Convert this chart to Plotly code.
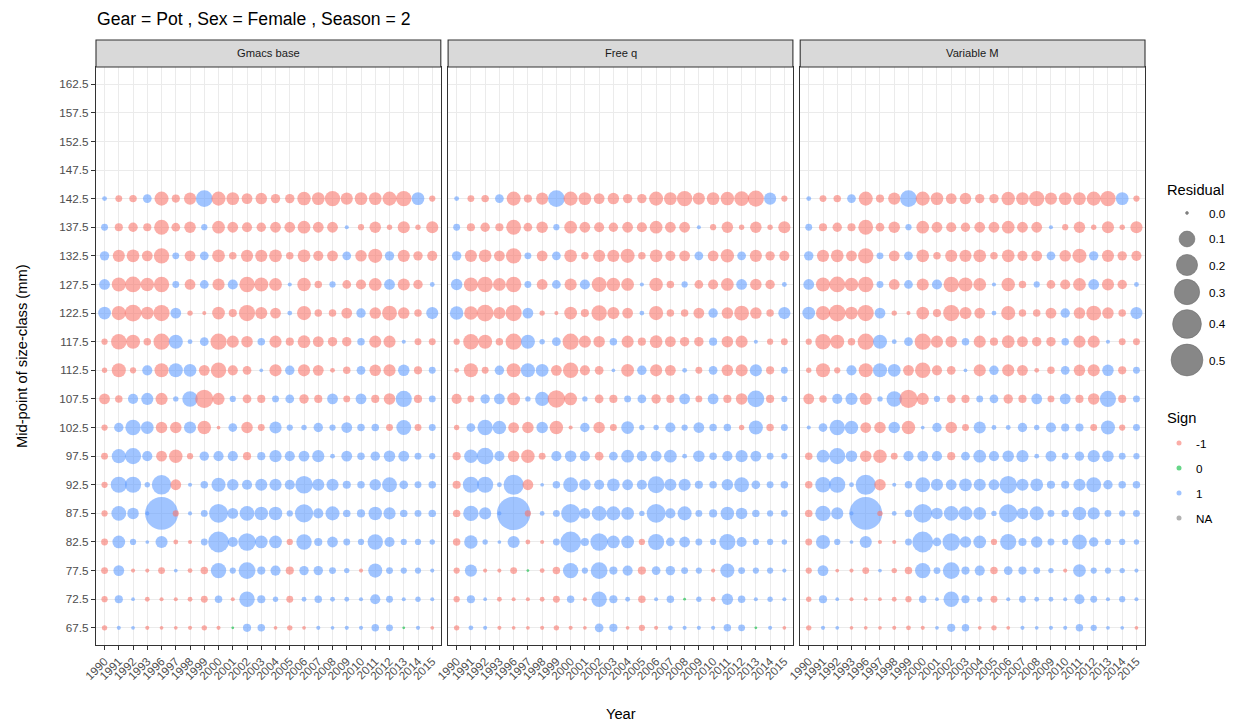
import math
import plotly.graph_objects as go

# ---------------- data ----------------
YEARS = [1990, 1991, 1992, 1993, 1996, 1997, 1998, 1999, 2000, 2001, 2002, 2003,
         2004, 2005, 2006, 2007, 2008, 2009, 2010, 2011, 2012, 2013, 2014, 2015]
SIZE_CLASSES = [142.5, 137.5, 132.5, 127.5, 122.5, 117.5, 112.5, 107.5,
                102.5, 97.5, 92.5, 87.5, 82.5, 77.5, 72.5, 67.5]
Y_TICKS = [67.5, 72.5, 77.5, 82.5, 87.5, 92.5, 97.5, 102.5, 107.5, 112.5,
           117.5, 122.5, 127.5, 132.5, 137.5, 142.5, 147.5, 152.5, 157.5, 162.5]
MODELS = ["Gmacs base", "Free q", "Variable M"]
LEGEND_RESID = [0.0, 0.1, 0.2, 0.3, 0.4, 0.5]
LEGEND_SIGN = ["-1", "0", "1", "NA"]

RES_GMACS = [
    [0.0025, -0.01, -0.013, 0.021, -0.076, -0.017, -0.052, 0.117, -0.076, -0.059, -0.038, -0.045, -0.026, -0.026, -0.068, -0.059, -0.095, -0.052, -0.059, -0.059, -0.076, -0.095, 0.059, -0.007],
    [0.01, -0.017, -0.026, -0.017, -0.086, -0.021, -0.045, 0.007, -0.059, -0.038, -0.032, -0.026, -0.038, -0.038, -0.059, -0.038, -0.038, 0.001, -0.007, -0.045, -0.004, -0.052, -0.004, -0.052],
    [0.026, -0.052, -0.059, -0.038, -0.095, 0.01, -0.038, 0.021, -0.059, -0.013, -0.052, -0.052, -0.059, -0.013, -0.059, -0.032, -0.038, 0.021, -0.045, -0.076, 0.026, -0.052, -0.026, -0.032],
    [0.038, -0.076, -0.1, -0.068, -0.095, 0.01, -0.038, 0.021, -0.052, 0.032, -0.095, -0.076, -0.059, 0.001, -0.068, -0.013, 0.007, -0.021, -0.032, -0.059, 0.038, -0.052, -0.026, 0.0025],
    [0.059, -0.076, -0.117, -0.059, -0.106, 0.038, -0.004, -0.001, -0.059, -0.017, -0.106, -0.052, -0.038, 0.0025, -0.076, -0.013, -0.013, -0.038, 0.026, -0.045, -0.086, -0.045, -0.013, 0.052],
    [-0.007, -0.095, -0.076, -0.013, -0.106, 0.076, 0.0025, 0.021, -0.106, -0.052, -0.045, 0.013, -0.052, -0.017, -0.059, -0.038, -0.026, -0.026, 0.013, -0.052, -0.052, 0.001, -0.01, -0.01],
    [-0.004, -0.076, -0.007, 0.032, -0.076, 0.076, 0.059, -0.038, -0.095, -0.032, -0.021, 0.0005, -0.052, 0.026, -0.052, -0.038, -0.0025, -0.013, 0.021, -0.045, -0.052, 0.045, -0.017, 0.01],
    [-0.038, -0.013, 0.032, 0.052, -0.052, 0.004, 0.095, -0.14, -0.052, 0.007, -0.021, -0.017, 0.01, 0.021, -0.026, -0.017, 0.038, -0.01, 0.038, -0.017, -0.045, 0.106, -0.017, 0.01],
    [-0.007, 0.026, 0.095, 0.059, -0.045, -0.045, 0.052, -0.068, -0.0005, 0.021, -0.045, -0.01, 0.052, 0.007, 0.004, 0.026, 0.007, 0.038, 0.013, 0.013, -0.01, 0.086, -0.01, 0.01],
    [-0.01, 0.076, 0.106, 0.032, -0.038, -0.068, -0.007, 0.026, 0.032, 0.032, -0.017, 0.017, 0.052, 0.032, 0.038, 0.052, 0.0025, 0.038, 0.013, 0.026, 0.045, 0.038, 0.01, 0.007],
    [-0.007, 0.106, 0.106, 0.004, 0.165, -0.038, 0.001, 0.013, 0.076, 0.045, 0.032, 0.052, 0.052, 0.032, 0.128, 0.052, 0.052, 0.017, 0.013, 0.045, 0.086, 0.021, 0.01, 0.013],
    [-0.007, 0.086, 0.045, 0.001, 0.535, -0.007, 0.001, 0.01, 0.152, 0.038, 0.086, 0.068, 0.068, 0.007, 0.14, 0.032, 0.076, 0.013, 0.017, 0.068, 0.052, 0.013, 0.01, 0.013],
    [-0.01, 0.059, 0.007, 0.0005, 0.052, -0.0025, -0.001, 0.01, 0.193, 0.032, 0.128, 0.059, 0.059, -0.007, 0.095, 0.017, 0.038, 0.01, 0.007, 0.095, 0.032, 0.007, 0.007, 0.004],
    [-0.01, 0.038, -0.001, -0.001, -0.01, 0.0005, -0.0025, -0.013, 0.095, 0.007, 0.117, 0.017, 0.032, -0.017, 0.026, 0.026, 0.01, 0.004, -0.001, 0.076, 0.01, 0.007, 0.007, 0.001],
    [-0.007, 0.017, 0.0005, -0.0025, -0.001, -0.001, -0.0025, -0.01, 0.013, -0.001, 0.095, 0.017, 0.004, -0.01, 0.0025, 0.013, 0.0025, 0.0025, 0.001, 0.032, 0.01, 0.001, 0.004, 0.001],
    [-0.004, 0.001, 0.0005, -0.001, -0.0005, -0.0005, -0.001, -0.004, -0.001, 0.0, 0.017, 0.013, -0.0005, -0.004, -0.0005, 0.001, 0.0005, 0.001, 0.001, 0.013, 0.01, 0.0, 0.001, -0.0005],
]

RES_FREEQ = [
    [0.0025, -0.01, -0.013, 0.021, -0.076, -0.017, -0.052, 0.117, -0.076, -0.059, -0.038, -0.045, -0.026, -0.026, -0.076, -0.059, -0.095, -0.052, -0.059, -0.068, -0.086, -0.106, 0.052, -0.007],
    [0.01, -0.017, -0.026, -0.017, -0.086, -0.021, -0.045, 0.007, -0.059, -0.038, -0.032, -0.026, -0.038, -0.032, -0.059, -0.038, -0.038, 0.001, -0.007, -0.045, -0.004, -0.045, -0.004, -0.052],
    [0.026, -0.052, -0.059, -0.038, -0.095, 0.01, -0.038, 0.021, -0.059, -0.013, -0.052, -0.052, -0.076, -0.013, -0.059, -0.032, -0.038, 0.021, -0.038, -0.068, 0.021, -0.052, -0.026, -0.032],
    [0.045, -0.076, -0.095, -0.059, -0.095, 0.01, -0.038, 0.021, -0.052, 0.032, -0.086, -0.068, -0.059, 0.001, -0.068, -0.013, 0.007, -0.021, -0.032, -0.059, 0.038, -0.045, -0.026, 0.0025],
    [0.068, -0.068, -0.117, -0.052, -0.106, 0.038, -0.004, -0.001, -0.059, -0.017, -0.095, -0.052, -0.038, 0.0025, -0.076, -0.013, -0.013, -0.038, 0.026, -0.045, -0.086, -0.045, -0.013, 0.052],
    [-0.007, -0.095, -0.076, -0.013, -0.106, 0.076, 0.004, 0.021, -0.106, -0.052, -0.045, 0.013, -0.052, -0.017, -0.059, -0.038, -0.026, -0.026, 0.017, -0.045, -0.052, 0.001, -0.007, -0.01],
    [-0.0025, -0.076, -0.01, 0.026, -0.076, 0.076, 0.059, -0.038, -0.095, -0.032, -0.021, 0.0005, -0.059, 0.026, -0.052, -0.038, 0.0025, -0.01, 0.021, -0.045, -0.052, 0.052, -0.017, 0.01],
    [-0.032, -0.01, 0.026, 0.038, -0.059, 0.004, 0.076, -0.128, -0.059, 0.004, -0.021, -0.017, 0.01, 0.021, -0.026, -0.017, 0.038, -0.01, 0.038, -0.017, -0.045, 0.117, -0.017, 0.007],
    [-0.004, 0.021, 0.095, 0.068, -0.038, -0.045, 0.045, -0.068, -0.001, 0.026, -0.045, -0.01, 0.059, 0.004, 0.004, 0.032, 0.007, 0.038, 0.013, 0.013, -0.004, 0.076, -0.013, 0.01],
    [-0.017, 0.068, 0.117, 0.032, -0.045, -0.068, -0.01, 0.032, 0.045, 0.032, -0.021, 0.021, 0.059, 0.032, 0.038, 0.059, 0.0025, 0.045, 0.013, 0.032, 0.052, 0.038, 0.01, 0.007],
    [-0.017, 0.106, 0.106, 0.0025, 0.179, -0.038, 0.0005, 0.013, 0.086, 0.045, 0.032, 0.059, 0.038, 0.032, 0.117, 0.052, 0.052, 0.017, 0.013, 0.045, 0.086, 0.021, 0.01, 0.013],
    [-0.013, 0.095, 0.052, 0.001, 0.56, -0.007, 0.0025, 0.01, 0.152, 0.038, 0.086, 0.076, 0.059, 0.004, 0.152, 0.032, 0.076, 0.01, 0.017, 0.068, 0.045, 0.013, 0.007, 0.01],
    [-0.013, 0.068, 0.004, 0.0005, 0.052, -0.0025, -0.001, 0.01, 0.193, 0.017, 0.128, 0.059, 0.059, -0.007, 0.106, 0.021, 0.038, 0.01, 0.007, 0.106, 0.032, 0.007, 0.007, 0.004],
    [-0.007, 0.052, -0.001, -0.001, -0.01, 0.0, -0.0025, -0.013, 0.095, 0.007, 0.117, 0.017, 0.032, -0.017, 0.021, 0.026, 0.01, 0.007, -0.001, 0.076, 0.01, 0.007, 0.007, 0.001],
    [-0.007, 0.017, 0.0005, -0.0025, -0.001, -0.001, -0.0025, -0.01, 0.013, -0.001, 0.095, 0.017, 0.0025, -0.013, 0.001, 0.013, 0.0, 0.004, -0.0025, 0.045, 0.013, 0.001, 0.004, 0.001],
    [-0.004, 0.0025, 0.001, -0.001, -0.0005, -0.0005, -0.001, -0.004, -0.001, -0.0005, 0.021, 0.017, -0.0005, -0.007, -0.001, 0.0025, 0.001, 0.001, 0.001, 0.013, 0.01, 0.0, 0.001, -0.0005],
]

RES_VARM = [
    [0.0025, -0.01, -0.013, 0.021, -0.076, -0.017, -0.052, 0.117, -0.076, -0.059, -0.038, -0.045, -0.026, -0.026, -0.068, -0.059, -0.095, -0.052, -0.059, -0.059, -0.076, -0.095, 0.059, -0.007],
    [0.01, -0.017, -0.026, -0.017, -0.086, -0.021, -0.045, 0.007, -0.059, -0.038, -0.032, -0.026, -0.038, -0.038, -0.059, -0.038, -0.038, 0.001, -0.007, -0.045, -0.004, -0.052, -0.004, -0.052],
    [0.026, -0.052, -0.059, -0.038, -0.095, 0.01, -0.038, 0.021, -0.059, -0.013, -0.052, -0.052, -0.059, -0.013, -0.059, -0.032, -0.038, 0.021, -0.045, -0.076, 0.026, -0.052, -0.026, -0.032],
    [0.038, -0.076, -0.1, -0.068, -0.095, 0.01, -0.038, 0.021, -0.052, 0.032, -0.095, -0.076, -0.059, 0.001, -0.068, -0.013, 0.007, -0.021, -0.032, -0.059, 0.038, -0.052, -0.026, 0.0025],
    [0.059, -0.076, -0.117, -0.059, -0.106, 0.038, -0.004, -0.001, -0.059, -0.017, -0.106, -0.052, -0.038, 0.0025, -0.076, -0.013, -0.013, -0.038, 0.026, -0.045, -0.086, -0.045, -0.013, 0.052],
    [-0.007, -0.095, -0.076, -0.013, -0.106, 0.076, 0.0025, 0.021, -0.106, -0.052, -0.045, 0.013, -0.052, -0.017, -0.059, -0.038, -0.026, -0.026, 0.013, -0.052, -0.052, 0.001, -0.01, -0.01],
    [-0.004, -0.076, -0.007, 0.032, -0.076, 0.076, 0.059, -0.038, -0.095, -0.032, -0.021, 0.0005, -0.052, 0.026, -0.052, -0.038, -0.0025, -0.013, 0.021, -0.045, -0.052, 0.045, -0.017, 0.01],
    [-0.038, -0.013, 0.032, 0.052, -0.052, 0.004, 0.095, -0.14, -0.052, 0.007, -0.021, -0.017, 0.01, 0.021, -0.026, -0.017, 0.038, -0.01, 0.038, -0.017, -0.045, 0.106, -0.017, 0.01],
    [0.001, 0.021, 0.095, 0.068, -0.038, -0.045, 0.045, -0.068, 0.0005, 0.026, -0.045, -0.01, 0.052, 0.0025, 0.0025, 0.026, 0.004, 0.032, 0.017, 0.017, -0.01, 0.076, -0.007, 0.01],
    [-0.013, 0.059, 0.106, 0.045, -0.045, -0.068, -0.01, 0.032, 0.038, 0.032, -0.017, 0.021, 0.059, 0.032, 0.045, 0.052, 0.0025, 0.038, 0.01, 0.026, 0.052, 0.045, 0.01, 0.007],
    [-0.013, 0.095, 0.106, 0.0025, 0.179, -0.045, 0.001, 0.013, 0.086, 0.052, 0.038, 0.059, 0.052, 0.038, 0.128, 0.052, 0.059, 0.017, 0.017, 0.052, 0.086, 0.026, 0.013, 0.013],
    [-0.013, 0.095, 0.052, 0.001, 0.535, -0.004, 0.0025, 0.013, 0.152, 0.045, 0.086, 0.076, 0.059, 0.004, 0.14, 0.045, 0.076, 0.01, 0.013, 0.068, 0.052, 0.01, 0.007, 0.01],
    [-0.01, 0.076, 0.007, 0.0005, 0.052, -0.001, -0.001, 0.01, 0.193, 0.021, 0.128, 0.045, 0.059, -0.007, 0.106, 0.017, 0.045, 0.01, 0.007, 0.086, 0.026, 0.007, 0.007, 0.004],
    [-0.007, 0.038, -0.0005, -0.001, -0.01, 0.0005, -0.004, -0.013, 0.095, 0.01, 0.117, 0.017, 0.032, -0.013, 0.021, 0.017, 0.01, 0.004, -0.001, 0.059, 0.007, 0.007, 0.004, 0.001],
    [-0.004, 0.017, 0.0005, -0.001, -0.0005, -0.0005, -0.0025, -0.007, 0.013, 0.0005, 0.095, 0.017, 0.004, -0.01, 0.001, 0.01, 0.0025, 0.0025, 0.001, 0.032, 0.01, 0.001, 0.007, 0.001],
    [-0.004, 0.001, 0.0005, -0.0005, -0.0005, -0.0005, -0.001, -0.0025, -0.001, 0.0005, 0.017, 0.013, -0.0005, -0.004, -0.0005, 0.001, 0.0005, 0.001, 0.001, 0.013, 0.007, 0.0005, 0.0005, -0.0005],
]
PANEL_DATA = [RES_GMACS, RES_FREEQ, RES_VARM]

# ---------------- styling ----------------
W, H = 1249, 725
FONT = "Liberation Sans, Arial, Helvetica, sans-serif"
SIGN_COLORS = {"-1": "#F8766D", "0": "#00BA38", "1": "#619CFF", "NA": "#7F7F7F"}
ALPHA = 0.6


def bubble_size(v):
    return 2.8 + 41.0 * math.sqrt(abs(v))


def sign_of(v):
    return "1" if v > 0 else ("-1" if v < 0 else "0")


PANEL_LEFT = [96.0, 448.1, 800.2]
PANEL_W = 344.8
PANEL_TOP, PANEL_BOT = 67.0, 645.0
STRIP_TOP = 40.0


def px(x):
    return x / W


def py(y):
    return 1 - y / H


fig = go.Figure()
cats = [str(y) for y in YEARS]

for p, data in enumerate(PANEL_DATA):
    xs, ys, sizes, cols = [], [], [], []
    for j, yr in enumerate(YEARS):
        for i, sc in enumerate(SIZE_CLASSES):
            v = data[i][j]
            xs.append(str(yr))
            ys.append(sc)
            sizes.append(bubble_size(v))
            cols.append(SIGN_COLORS[sign_of(v)])
    suffix = "" if p == 0 else str(p + 1)
    fig.add_trace(go.Scatter(
        x=xs, y=ys, mode="markers",
        marker=dict(size=sizes, color=cols, opacity=ALPHA, line=dict(width=0)),
        xaxis="x" + suffix, yaxis="y" + suffix, showlegend=False, hoverinfo="skip",
        cliponaxis=True,
    ))

axis_common = dict(
    showgrid=True, gridcolor="#EBEBEB", gridwidth=1.1,
    showline=True, mirror=True, linecolor="#333333", linewidth=1.1,
    ticks="outside", ticklen=4, tickwidth=1, tickcolor="#333333",
    zeroline=False, automargin=False,
    tickfont=dict(family=FONT, size=11.7, color="#4D4D4D"),
)

layout = dict(
    width=W, height=H, autosize=False,
    margin=dict(l=0, r=0, t=0, b=0, pad=0),
    paper_bgcolor="white", plot_bgcolor="rgba(0,0,0,0)",
    showlegend=False,
    font=dict(family=FONT),
)

for p in range(3):
    suffix = "" if p == 0 else str(p + 1)
    xd = [px(PANEL_LEFT[p]), px(PANEL_LEFT[p] + PANEL_W)]
    yd = [py(PANEL_BOT), py(PANEL_TOP)]
    layout["xaxis" + suffix] = dict(
        axis_common, domain=xd, anchor="y" + suffix, type="category",
        categoryorder="array", categoryarray=cats, range=[-0.6, len(cats) - 0.4],
        tickangle=-45, tickmode="array", tickvals=cats, ticktext=cats,
    )
    layout["yaxis" + suffix] = dict(
        axis_common, domain=yd, anchor="x" + suffix, range=[64.5, 165.5],
        tickmode="array", tickvals=Y_TICKS,
        ticktext=["%.1f" % t for t in Y_TICKS],
        showticklabels=(p == 0),
        ticks="outside" if p == 0 else "",
    )

# legend helper axis in pixel coordinates
layout["xaxis4"] = dict(domain=[0, 1], range=[0, W], visible=False, anchor="y4",
                        fixedrange=True, automargin=False)
layout["yaxis4"] = dict(domain=[0, 1], range=[H, 0], visible=False, anchor="x4",
                        fixedrange=True, automargin=False)

fig.update_layout(**layout)

# Residual size legend
RES_KEY_Y = [213, 239, 265, 292, 324, 360]
fig.add_trace(go.Scatter(
    x=[1187] * len(LEGEND_RESID), y=RES_KEY_Y, mode="markers",
    marker=dict(size=[bubble_size(v) for v in LEGEND_RESID], color="#555555",
                line=dict(width=0.6, color="#333333")),
    xaxis="x4", yaxis="y4", showlegend=False, hoverinfo="skip", cliponaxis=False,
))
SIGN_KEY_Y = [443, 468, 493, 518]
fig.add_trace(go.Scatter(
    x=[1179] * len(LEGEND_SIGN), y=SIGN_KEY_Y, mode="markers",
    marker=dict(size=5, color=[SIGN_COLORS[s] for s in LEGEND_SIGN], opacity=ALPHA),
    xaxis="x4", yaxis="y4", showlegend=False, hoverinfo="skip", cliponaxis=False,
))

ann = []
# title
ann.append(dict(text="Gear = Pot , Sex = Female , Season = 2", x=px(95), y=py(19),
                xref="paper", yref="paper", xanchor="left", yanchor="middle",
                showarrow=False, font=dict(size=17.6, color="black", family=FONT)))
# strips
shapes = []
for p, m in enumerate(MODELS):
    x0, x1 = PANEL_LEFT[p], PANEL_LEFT[p] + PANEL_W
    shapes.append(dict(type="rect", xref="paper", yref="paper",
                       x0=px(x0), x1=px(x1), y0=py(PANEL_TOP), y1=py(STRIP_TOP),
                       fillcolor="#D9D9D9", line=dict(color="#333333", width=1.1), layer="above"))
    ann.append(dict(text=m, x=px((x0 + x1) / 2), y=py((PANEL_TOP + STRIP_TOP) / 2),
                    xref="paper", yref="paper", xanchor="center", yanchor="middle",
                    showarrow=False, font=dict(size=11.2, color="#1A1A1A", family=FONT)))
# axis titles
ann.append(dict(text="Mid-point of size-class (mm)", x=px(22), y=py((PANEL_TOP + PANEL_BOT) / 2),
                xref="paper", yref="paper", textangle=-90, xanchor="center", yanchor="middle",
                showarrow=False, font=dict(size=14.7, color="black", family=FONT)))
ann.append(dict(text="Year", x=px((PANEL_LEFT[0] + PANEL_LEFT[2] + PANEL_W) / 2), y=py(714),
                xref="paper", yref="paper", xanchor="center", yanchor="middle",
                showarrow=False, font=dict(size=14.7, color="black", family=FONT)))
# legend texts
ann.append(dict(text="Residual", x=px(1165), y=py(190), xref="paper", yref="paper",
                xanchor="left", yanchor="middle", showarrow=False,
                font=dict(size=14.7, color="black", family=FONT)))
for v, yy in zip(LEGEND_RESID, RES_KEY_Y):
    ann.append(dict(text="%.1f" % v, x=px(1207), y=py(yy), xref="paper", yref="paper",
                    xanchor="left", yanchor="middle", showarrow=False,
                    font=dict(size=11.7, color="black", family=FONT)))
ann.append(dict(text="Sign", x=px(1165), y=py(418), xref="paper", yref="paper",
                xanchor="left", yanchor="middle", showarrow=False,
                font=dict(size=14.7, color="black", family=FONT)))
for s, yy in zip(LEGEND_SIGN, SIGN_KEY_Y):
    ann.append(dict(text=s, x=px(1194), y=py(yy), xref="paper", yref="paper",
                    xanchor="left", yanchor="middle", showarrow=False,
                    font=dict(size=11.7, color="black", family=FONT)))

fig.update_layout(annotations=ann, shapes=shapes)
fig.write_html("out.html", config={"displayModeBar": False},
               post_script="document.body.style.margin='0px';document.body.style.overflow='hidden';")
